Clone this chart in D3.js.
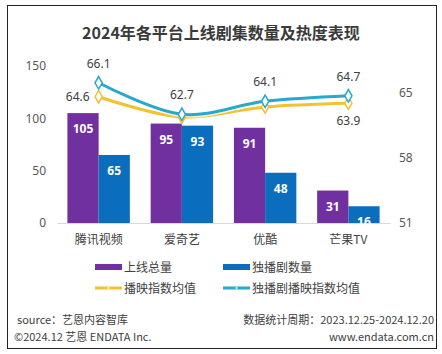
<!DOCTYPE html>
<html>
<head>
<meta charset="utf-8">
<script src="https://cdn.jsdelivr.net/npm/d3@7"></script>
<style>
  body { margin: 0; background: #fff; }
  text { font-family: "Noto Sans CJK SC", "Noto Sans", sans-serif; }
</style>
</head>
<body>
<div id="chart"></div>
<script>
// data
var platforms = ["腾讯视频", "爱奇艺", "优酷", "芒果TV"];
var totalCount = [105, 95, 91, 31];
var exclusiveCount = [65, 93, 48, 16];
var avgIndex = [64.6, 62.4, 63.5, 63.9];
var exclusiveAvgIndex = [66.1, 62.7, 64.1, 64.7];
var leftTicks = [0, 50, 100, 150];
var rightTicks = [51, 58, 65];

var W = 442, H = 354;
var purple = "#7030A0", blue = "#0B6DBE", yellow = "#F2C232", cyan = "#27A8CF";

var svg = d3.select("#chart").append("svg")
  .attr("width", W).attr("height", H);

svg.append("rect").attr("width", W).attr("height", H).attr("fill", "#fff");
// frame
svg.append("rect")
  .attr("x", 7.5).attr("y", 5.5).attr("width", 429).attr("height", 343)
  .attr("fill", "none").attr("stroke", "#222").attr("stroke-width", 1);

svg.append("text")
  .attr("x", 221).attr("y", 39)
  .attr("text-anchor", "middle")
  .attr("font-size", 16).attr("font-weight", "bold").attr("fill", "#3a3a3a")
  .text("2024年各平台上线剧集数量及热度表现");

// scales
var x = d3.scaleBand().domain(platforms).range([57, 390])
  .paddingInner(0.25).paddingOuter(0.125);
var x1 = d3.scaleBand().domain([0, 1]).range([0, x.bandwidth()]);
var y = d3.scaleLinear().domain([0, 150]).range([223, 66]);
var y2 = d3.scaleLinear().domain([51, 65]).range([223, 93]);

// axes (no lines, just labels)
var gl = svg.append("g").attr("transform", "translate(46,0)")
  .call(d3.axisLeft(y).tickValues(leftTicks).tickSize(0).tickPadding(0));
var gr = svg.append("g").attr("transform", "translate(399,0)")
  .call(d3.axisRight(y2).tickValues(rightTicks).tickSize(0).tickPadding(0));
[gl, gr].forEach(function(g) {
  g.select(".domain").remove();
  g.selectAll("text").attr("font-size", 12).attr("fill", "#595959")
    .style("font-family", "'Noto Sans', sans-serif");
});

var gx = svg.append("g").attr("transform", "translate(0,223)")
  .call(d3.axisBottom(x).tickSize(0).tickPadding(12));
gx.select(".domain").attr("stroke", "#d9d9d9");
gx.selectAll("text").attr("font-size", 12).attr("fill", "#404040")
  .style("font-family", "'Noto Sans CJK SC', sans-serif");

// bars
var series = [totalCount, exclusiveCount];
var colors = [purple, blue];
series.forEach(function(vals, s) {
  var g = svg.append("g");
  g.selectAll("rect").data(vals).enter().append("rect")
    .attr("x", function(d, i) { return x(platforms[i]) + x1(s); })
    .attr("y", function(d) { return y(d); })
    .attr("width", x1.bandwidth())
    .attr("height", function(d) { return y(0) - y(d); })
    .attr("fill", colors[s]);
  g.selectAll("text").data(vals).enter().append("text")
    .attr("x", function(d, i) { return x(platforms[i]) + x1(s) + x1.bandwidth() / 2; })
    .attr("y", function(d) { return y(d) + 20; })
    .attr("text-anchor", "middle")
    .attr("font-size", 12).attr("font-weight", "bold").attr("fill", "#fff")
    .style("font-family", "'Noto Sans', sans-serif")
    .text(function(d) { return d; });
});

// lines
var cx = function(i) { return x(platforms[i]) + x.bandwidth() / 2; };
var line = d3.line()
  .x(function(d, i) { return cx(i); })
  .y(function(d) { return y2(d); })
  .curve(d3.curveCatmullRom);

var lineSeries = [avgIndex, exclusiveAvgIndex];
var lineColors = [yellow, cyan];
var diamond = d3.symbol().type(d3.symbolDiamond).size(45);

lineSeries.forEach(function(vals, s) {
  svg.append("path").datum(vals)
    .attr("d", line).attr("fill", "none")
    .attr("stroke", "#fff").attr("stroke-width", 6).attr("stroke-opacity", 0.7);
  svg.append("path").datum(vals)
    .attr("d", line).attr("fill", "none")
    .attr("stroke", lineColors[s]).attr("stroke-width", 3);
});
lineSeries.forEach(function(vals, s) {
  svg.append("g").selectAll("path").data(vals).enter().append("path")
    .attr("d", diamond)
    .attr("transform", function(d, i) { return "translate(" + cx(i) + "," + y2(d) + ")"; })
    .attr("fill", "#fff").attr("stroke", lineColors[s]).attr("stroke-width", 1.5);
});

// line labels
svg.append("g").selectAll("text").data(exclusiveAvgIndex).enter().append("text")
  .attr("x", function(d, i) { return cx(i); })
  .attr("y", function(d) { return y2(d) - 15; })
  .attr("text-anchor", "middle")
  .attr("font-size", 12).attr("fill", "#404040")
  .style("font-family", "'Noto Sans', sans-serif")
  .text(function(d) { return d.toFixed(1); });

svg.append("text")
  .attr("x", cx(0) - 9).attr("y", y2(avgIndex[0]) + 4)
  .attr("text-anchor", "end")
  .attr("font-size", 12).attr("fill", "#404040")
  .style("font-family", "'Noto Sans', sans-serif")
  .text(avgIndex[0].toFixed(1));
svg.append("text")
  .attr("x", cx(3)).attr("y", y2(avgIndex[3]) + 22)
  .attr("text-anchor", "middle")
  .attr("font-size", 12).attr("fill", "#404040")
  .style("font-family", "'Noto Sans', sans-serif")
  .text(avgIndex[3].toFixed(1));

// legend
var legend = [
  { name: "上线总量", color: purple, type: "bar", x: 95, y: 267 },
  { name: "独播剧数量", color: blue, type: "bar", x: 223, y: 267 },
  { name: "播映指数均值", color: yellow, type: "line", x: 95, y: 288 },
  { name: "独播剧播映指数均值", color: cyan, type: "line", x: 223, y: 288 }
];
legend.forEach(function(l) {
  var g = svg.append("g").attr("transform", "translate(" + l.x + "," + l.y + ")");
  if (l.type === "bar") {
    g.append("rect").attr("x", 0).attr("y", -3).attr("width", 27).attr("height", 6).attr("fill", l.color);
  } else {
    g.append("line").attr("x1", 0).attr("x2", 27).attr("stroke", l.color).attr("stroke-width", 3);
    g.append("circle").attr("cx", 13.5).attr("r", 1).attr("fill", "#fff");
  }
  g.append("text").attr("x", 29).attr("y", 4.5)
    .attr("font-size", 12).attr("fill", "#404040").text(l.name);
});

// footer
var foot = svg.append("g").attr("font-size", 11).attr("fill", "#404040");
foot.append("text").attr("x", 17).attr("y", 324).text("source：艺恩内容智库");
foot.append("text").attr("x", 14).attr("y", 341).text("©2024.12 艺恩 ENDATA Inc.");
foot.append("text").attr("x", 434).attr("y", 324).attr("text-anchor", "end")
  .text("数据统计周期：2023.12.25-2024.12.20");
foot.append("text").attr("x", 434).attr("y", 341).attr("text-anchor", "end")
  .text("www.endata.com.cn");
</script>
</body>
</html>
